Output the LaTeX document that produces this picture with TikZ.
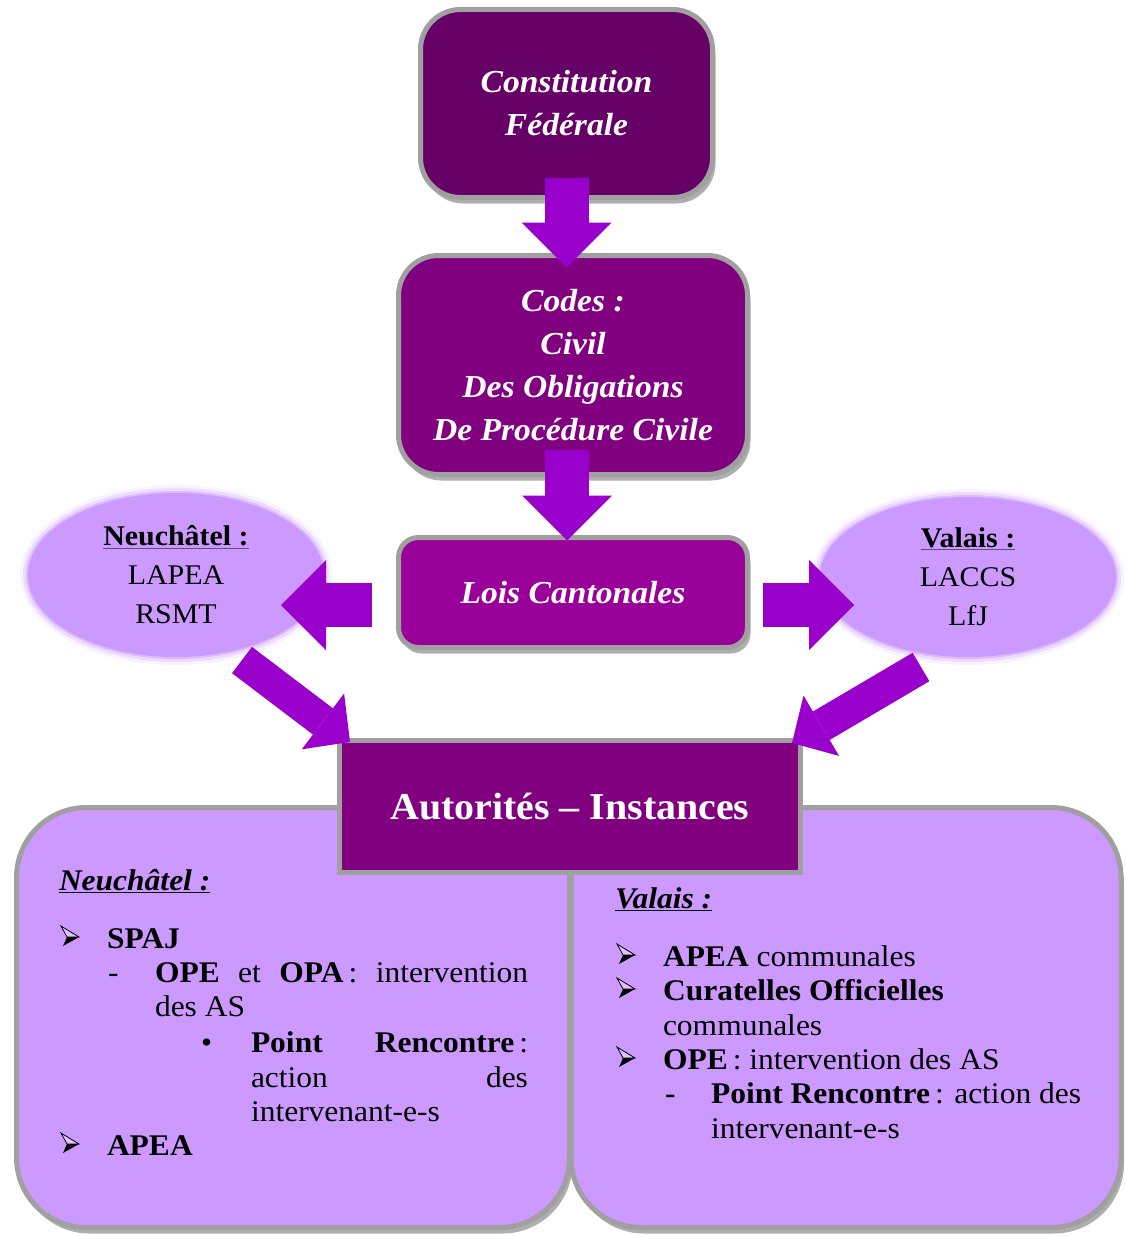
\documentclass[tikz,border=0pt]{standalone}
\usepackage{fontspec}
\setmainfont{Liberation Serif}[FakeStretch=1.05]
\usetikzlibrary{arrows.meta,shadows,calc,shapes.geometric}
\definecolor{cdark}{HTML}{660066}
\definecolor{cmid}{HTML}{800080}
\definecolor{clois}{HTML}{990099}
\definecolor{carrow}{HTML}{9900CC}
\definecolor{clight}{HTML}{CC99FF}
\definecolor{cborder}{HTML}{A0A0A0}
\tikzset{
  shadowed/.style={drop shadow={shadow xshift=3pt,shadow yshift=-6pt,opacity=0.45,fill=black!70}},
  topbox/.style={draw=cborder,line width=5pt,rounded corners=40pt,outer sep=0pt,inner sep=0pt,
     text=white,align=center,shadowed,font=\fontsize{32}{43}\selectfont\bfseries\itshape},
  lowbox/.style={draw=cborder,line width=5pt,rounded corners=70pt,outer sep=0pt,fill=clight,shadowed},
  glowell/.style={ellipse,
     preaction={draw=clight,line width=16pt,draw opacity=0.12},
     preaction={draw=clight,line width=10pt,draw opacity=0.25},
     fill=clight,draw=clight,draw opacity=0.5,line width=4pt,outer sep=0pt,
     inner sep=0pt,align=center,font=\fontsize{28.5}{39}\selectfont},
  bigarrow/.style={carrow,line width=44pt,-{Triangle[width=90pt,length=45pt,line width=0pt]}},
  diagarrow/.style={carrow,line width=33pt,-{Triangle[width=70pt,length=34pt,line width=0pt]}},
  txt/.style={inner sep=0pt,outer sep=0pt,anchor=base west,font=\fontsize{30}{34}\selectfont},
  listarrow/.pic={
     \draw[black,line width=0.8pt,line join=miter,fill=clight!60!white] (0,0) -- (18,11) -- (6,11) -- cycle;
     \fill[black] (6,11) -- (18,11) -- (2,20) -- cycle;
  },
}
\begin{document}
\begin{tikzpicture}[x=1pt,y=-1pt]
\useasboundingbox (0,0) rectangle (1125,1236);
% top boxes
\node[topbox,fill=cdark,minimum width=292pt,minimum height=188pt] (const) at (566.5,103.5)
  {Constitution\\Fédérale};
\node[topbox,fill=cmid,minimum width=349pt,minimum height=219pt] (codes) at (573,365)
  {Codes :\\Civil\\Des Obligations\\De Procédure Civile};
\node[topbox,fill=clois,rounded corners=20pt,minimum width=349pt,minimum height=110pt] (lois) at (573,592.5)
  {Lois Cantonales};
% ellipses
\node[glowell,minimum width=296pt,minimum height=164pt] (nell) at (176,575)
  {\textbf{\underline{Neuchâtel :}}\\LAPEA\\RSMT};
\node[glowell,minimum width=296pt,minimum height=160pt] (vell) at (968,577)
  {\textbf{\underline{Valais :}}\\LACCS\\LfJ};
% bottom boxes
\node[lowbox,minimum width=553pt,minimum height=420pt] (nbox) at (293,1017.5) {};
\node[lowbox,minimum width=550pt,minimum height=420pt] (vbox) at (846,1017.5) {};
\node[draw=cborder,line width=5pt,fill=cmid,outer sep=0pt,minimum width=461pt,minimum height=132pt,
  text=white,font=\fontsize{38}{43}\selectfont\bfseries] (aut) at (570,806.5) {Autorités – Instances};
% arrows
\draw[bigarrow] ($(const.south)+(0,-20)$) -- ($(const.south |- codes.north)+(0,12)$);
\draw[bigarrow] ($(codes.south)+(-6,-25)$) -- ($(lois.north)+(-6,3)$);
\draw[bigarrow] ($(lois.west)+(-26.5,12.5)$) -- ($(nell.east)+(-43,30)$);
\draw[bigarrow] ($(lois.east)+(15.5,12.5)$) -- ($(vell.west)+(34,28)$);
\draw[diagarrow] ($(nell.south)+(66,3)$) -- ($(aut.north west)+(10.5,1.5)$);
\draw[diagarrow] ($(vell.south)+(-47,10)$) -- ($(aut.north east)+(-8.5,2.5)$);
% Neuchatel list
\node[txt] (ntitle) at (59,890) {\textbf{\textit{\underline{Neuchâtel :}}}};
\pic at (61,926) {listarrow};
\node[txt] (nspaj) at (107,948) {\textbf{SPAJ}};
\node[txt] (nd1) at (108,982) {-};
\node[txt] (nope) at (155,982) {\hbox to 373pt{\textbf{OPE}\hfill et\hfill\textbf{OPA}\,:\hfill intervention}};
\node[txt] (nas) at (155,1016) {des AS};
\node[txt] (ndot) at (201,1052) {•};
\node[txt] (npr) at (251,1052) {\hbox to 277pt{\textbf{Point}\hfill\textbf{Rencontre}\,:}};
\node[txt] (nact) at (251,1087) {\hbox to 277pt{action\hfill des}};
\node[txt] (nint) at (251,1121) {intervenant-e-s};
\pic at (61,1133) {listarrow};
\node[txt] (napea) at (107,1155) {\textbf{APEA}};
% Valais list
\node[txt] (vtitle) at (615,908) {\textbf{\textit{\underline{Valais :}}}};
\pic at (617,944) {listarrow};
\node[txt] (vapea) at (663,966) {\textbf{APEA} communales};
\pic at (617,978) {listarrow};
\node[txt] (vcur) at (663,1000) {\textbf{Curatelles Officielles}};
\node[txt] (vcom) at (663,1035) {communales};
\pic at (617,1047) {listarrow};
\node[txt] (vope) at (663,1069) {\textbf{OPE}\,: intervention des AS};
\node[txt] (vd1) at (665,1103) {\textbf{-}};
\node[txt] (vpr) at (711,1103) {\textbf{Point Rencontre}\,: action des};
\node[txt] (vint) at (711,1138) {intervenant-e-s};
\end{tikzpicture}
\end{document}
